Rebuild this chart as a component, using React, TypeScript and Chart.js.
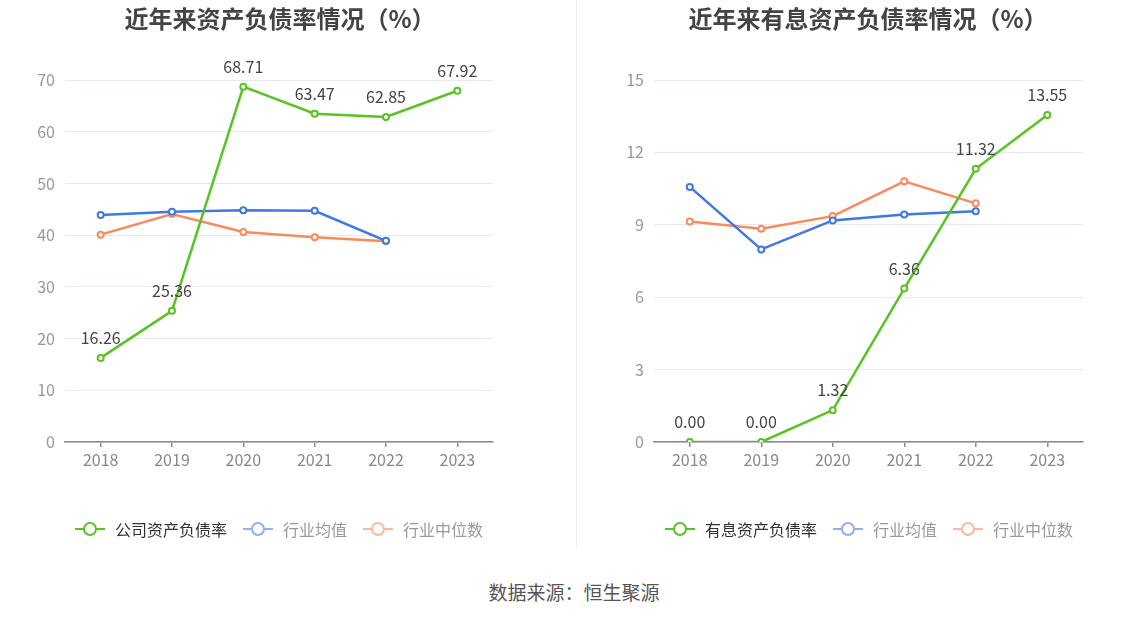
import React, { useEffect, useRef } from "react";
import { Chart, registerables } from "chart.js";

Chart.register(...registerables);

const years = ["2018", "2019", "2020", "2021", "2022", "2023"];

const companyDebtRatio = [16.26, 25.36, 68.71, 63.47, 62.85, 67.92];
const industryAvgDebt = [43.9, 44.5, 44.8, 44.7, 38.9, null];
const industryMedDebt = [40.1, 44.1, 40.6, 39.6, 38.8, null];

const interestDebtRatio = [0.0, 0.0, 1.32, 6.36, 11.32, 13.55];
const industryAvgInterest = [10.57, 7.98, 9.18, 9.43, 9.56, null];
const industryMedInterest = [9.14, 8.84, 9.36, 10.8, 9.89, null];

const leftTitle = "近年来资产负债率情况（%）";
const rightTitle = "近年来有息资产负债率情况（%）";
const leftLegend = ["公司资产负债率", "行业均值", "行业中位数"];
const rightLegend = ["有息资产负债率", "行业均值", "行业中位数"];
const sourceText = "数据来源：恒生聚源";

const FONT = "'Noto Sans CJK SC', 'Noto Sans', sans-serif";
const GREEN = "#58c322";
const BLUE = "#3d78e3";
const ORANGE = "#fa8a5e";

const labelPlugin = {
  id: "valueLabels",
  afterDatasetsDraw(chart: any) {
    const ctx = chart.ctx;
    const meta = chart.getDatasetMeta(0);
    const data = chart.data.datasets[0].data;
    ctx.save();
    ctx.font = `16px ${FONT}`;
    ctx.fillStyle = "#444";
    ctx.textAlign = "center";
    ctx.textBaseline = "middle";
    meta.data.forEach((pt: any, i: number) => {
      const v = data[i];
      if (v === null || v === undefined) return;
      ctx.fillText(Number(v).toFixed(2), pt.x, pt.y - 20);
    });
    ctx.restore();
  },
};

type Props = {
  main: number[];
  avg: (number | null)[];
  med: (number | null)[];
  names: string[];
  max: number;
  step: number;
  padLeft: number;
  yWidth: number;
  padRight: number;
};

function LineChart(p: Props) {
  const ref = useRef<HTMLCanvasElement | null>(null);
  useEffect(() => {
    if (!ref.current) return;
    const mk = (label: string, data: any[], color: string) => ({
      label,
      data,
      borderColor: color,
      backgroundColor: "#fff",
      pointBackgroundColor: "#fff",
      pointBorderColor: color,
      pointRadius: 3,
      pointBorderWidth: 2,
      borderWidth: 2.5,
      tension: 0,
      spanGaps: false,
    });
    const chart = new Chart(ref.current, {
      type: "line",
      data: {
        labels: years,
        datasets: [
          mk(p.names[0], p.main, GREEN),
          mk(p.names[1], p.avg, BLUE),
          mk(p.names[2], p.med, ORANGE),
        ] as any,
      },
      options: {
        animation: false,
        responsive: false,
        maintainAspectRatio: false,
        layout: { padding: { left: p.padLeft, right: p.padRight, top: 80, bottom: 0 } },
        plugins: {
          legend: { display: false },
          title: { display: false },
          tooltip: { enabled: false },
        },
        scales: {
          x: {
            offset: true,
            grid: { drawOnChartArea: false, drawTicks: true, tickLength: 5, color: "#8a8a8a", lineWidth: 1.5 },
            border: { display: true, color: "#8a8a8a", width: 1.5 },
            ticks: { color: "#888", font: { size: 16, family: FONT }, padding: 3 },
            afterFit: (s: any) => {
              s.height = 108;
            },
          },
          y: {
            min: 0,
            max: p.max,
            grid: { color: "#e6e9f2", drawTicks: false, lineWidth: 1 },
            border: { display: false },
            ticks: { stepSize: p.step, color: "#999", font: { size: 16, family: FONT }, padding: 10 },
            afterFit: (s: any) => {
              s.width = p.yWidth;
            },
          },
        },
      } as any,
      plugins: [labelPlugin],
    });
    return () => chart.destroy();
  }, []);
  return <canvas ref={ref} width={574} height={550} style={{ width: 574, height: 550, display: "block" }} />;
}

function LegendItem({ color, text, textColor }: { color: string; text: string; textColor: string }) {
  return (
    <div style={{ display: "flex", alignItems: "center", marginRight: 16 }}>
      <div style={{ position: "relative", width: 30, height: 15, marginRight: 10 }}>
        <div style={{ position: "absolute", left: 0, top: 6.25, width: 30, height: 2.5, background: color }} />
        <div
          style={{
            position: "absolute",
            left: 7.5,
            top: 0,
            width: 10,
            height: 10,
            borderRadius: "50%",
            border: `2.5px solid ${color}`,
            background: "#fff",
          }}
        />
      </div>
      <span style={{ fontSize: 16, color: textColor, whiteSpace: "nowrap" }}>{text}</span>
    </div>
  );
}

function Legend({ names, left }: { names: string[]; left: number }) {
  return (
    <div
      style={{
        position: "absolute",
        left,
        top: 518,
        height: 22,
        display: "flex",
        alignItems: "center",
        fontFamily: FONT,
      }}
    >
      <LegendItem color={GREEN} text={names[0]} textColor="#333" />
      <LegendItem color="#8fb0f2" text={names[1]} textColor="#999" />
      <LegendItem color="#fdb79c" text={names[2]} textColor="#999" />
    </div>
  );
}

function Title({ text, center }: { text: string; center: number }) {
  return (
    <div
      style={{
        position: "absolute",
        left: center - 300,
        top: 2,
        width: 600,
        height: 32,
        lineHeight: "32px",
        textAlign: "center",
        fontFamily: FONT,
        fontWeight: "bold",
        fontSize: 24,
        color: "#444",
        whiteSpace: "nowrap",
      }}
    >
      {text}
    </div>
  );
}

export default function App() {
  return (
    <div style={{ position: "fixed", left: 0, top: 0, width: 1148, height: 619, background: "#fff", overflow: "hidden" }}>
      <div style={{ position: "absolute", left: 0, top: 0 }}>
        <LineChart
          main={companyDebtRatio}
          avg={industryAvgDebt}
          med={industryMedDebt}
          names={leftLegend}
          max={70}
          step={10}
          padLeft={0}
          yWidth={65}
          padRight={81}
        />
      </div>
      <div style={{ position: "absolute", left: 574, top: 0 }}>
        <LineChart
          main={interestDebtRatio}
          avg={industryAvgInterest}
          med={industryMedInterest}
          names={rightLegend}
          max={15}
          step={3}
          padLeft={0}
          yWidth={80}
          padRight={65}
        />
      </div>
      <Title text={leftTitle} center={280} />
      <Title text={rightTitle} center={868} />
      <div style={{ position: "absolute", left: 576, top: 0, width: 1, height: 548, background: "#eeeeee" }} />
      <Legend names={leftLegend} left={75} />
      <Legend names={rightLegend} left={665} />
      <div
        style={{
          position: "absolute",
          left: 0,
          top: 577,
          width: 1148,
          height: 30,
          lineHeight: "30px",
          textAlign: "center",
          fontFamily: FONT,
          fontSize: 19,
          color: "#555",
        }}
      >
        {sourceText}
      </div>
    </div>
  );
}
